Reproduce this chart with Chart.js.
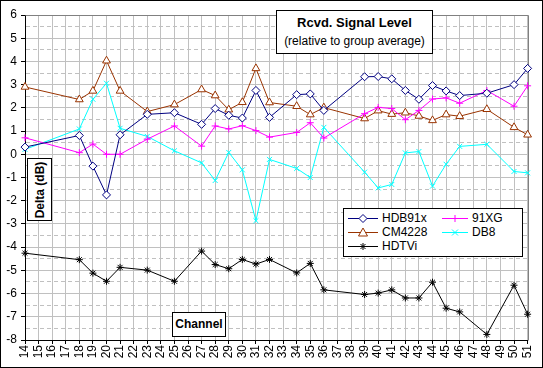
<!DOCTYPE html>
<html><head><meta charset="utf-8">
<script src="https://cdn.jsdelivr.net/npm/chart.js@4"></script>
<style>
html,body{margin:0;padding:0;background:#fff;overflow:hidden}
#wrap{position:relative;width:543px;height:368px;font-family:"Liberation Sans",Arial,sans-serif;color:#000}
#c{position:absolute;left:0;top:0}
.box{position:absolute;background:#fff;border:1px solid #000;box-sizing:border-box}
#title{left:276px;top:10px;width:157px;height:44px;text-align:center}
#title .t1{font-weight:bold;font-size:13px;margin-top:4px;line-height:16px}
#title .t2{font-size:12px;line-height:16px;margin-top:2px}
#ytitle{left:27px;top:158px;width:25px;height:63px}
#ytitle span{position:absolute;left:50%;top:50%;transform:translate(-50%,-50%) rotate(-90deg);white-space:nowrap;font-weight:bold;font-size:12px}
#xtitle{left:172px;top:312px;width:54px;height:25px;font-weight:bold;font-size:12px;text-align:center;line-height:23px}
#legend{left:343px;top:208px;width:180px;height:49px}
#legend svg{position:absolute;left:0;top:0}
#legend .lt{position:absolute;font-size:12px;line-height:14px;white-space:nowrap}
</style></head>
<body>
<div id="wrap">
<canvas id="c" width="543" height="368"></canvas>
<div class="box" id="title"><div class="t1">Rcvd. Signal Level</div><div class="t2">(relative to group average)</div></div>
<div class="box" id="ytitle"><span>Delta (dB)</span></div>
<div class="box" id="xtitle">Channel</div>
<div class="box" id="legend"></div>
</div>
<script>
const channels = [14,18,19,20,21,23,25,27,28,29,30,31,32,34,35,36,39,40,41,42,43,44,45,46,48,50,51];
const hdb91x = [0.31,0.81,-0.51,-1.75,0.84,1.72,1.79,1.29,1.97,1.68,1.56,2.75,1.59,2.57,2.60,1.89,3.34,3.35,3.25,2.75,2.37,2.96,2.73,2.53,2.63,3.00,3.70];
const xg91 = [0.71,0.07,0.44,0.00,0.00,0.65,1.22,0.35,1.22,1.09,1.23,1.02,0.74,0.94,1.36,0.70,1.75,2.02,1.97,1.49,1.89,2.38,2.43,2.20,2.75,2.07,2.95];
const cm4228 = [2.90,2.36,2.73,4.03,2.73,1.84,2.14,2.79,2.53,1.92,2.24,3.70,2.23,2.07,1.71,2.01,1.54,1.88,1.73,1.79,1.65,1.46,1.71,1.64,1.94,1.16,0.84];
const db8 = [0.21,1.09,2.37,3.06,1.12,0.77,0.15,-0.37,-1.13,0.08,-0.67,-2.86,-0.22,-0.61,-1.00,1.16,-0.77,-1.45,-1.30,0.06,0.12,-1.37,-0.43,0.34,0.43,-0.74,-0.80];
const hdtvi = [-4.26,-4.54,-5.12,-5.47,-4.87,-4.99,-5.47,-4.17,-4.75,-4.93,-4.53,-4.73,-4.53,-5.11,-4.70,-5.84,-6.04,-5.98,-5.84,-6.19,-6.19,-5.51,-6.63,-6.79,-7.76,-5.64,-6.89];
const xTickLabels = [14,15,16,17,18,19,20,21,22,23,24,25,26,27,28,29,30,31,32,33,34,35,36,37,38,39,40,41,42,43,44,45,46,47,48,49,50,51];
const yGridValues = [-8,-7.5,-7,-6.5,-6,-5.5,-5,-4.5,-4,-3.5,-3,-2.5,-2,-1.5,-1,-0.5,0,0.5,1,1.5,2,2.5,3,3.5,4,4.5,5,5.5,6];

const seriesNames = ['HDB91x','91XG','CM4228','DB8','HDTVi'];
const seriesColors = ['#000080','#ff00ff','#993300','#00ffff','#000000'];
const seriesStyles = ['rectRot','cross','triangle','crossRot','star'];
const seriesValues = [hdb91x, xg91, cm4228, db8, hdtvi];

const FONT = '"Liberation Sans", Arial, sans-serif';
const GRID = '#c0c0c0';

function pts(ys){ return channels.map((c,i)=>({x:c,y:ys[i]})); }

const datasets = seriesNames.map((n,i)=>({
  label:n,
  data:pts(seriesValues[i]),
  borderColor:seriesColors[i],
  backgroundColor:'#ffffff',
  borderWidth:1,
  pointStyle:seriesStyles[i],
  pointRadius: seriesStyles[i]==='triangle'?4.5:(seriesStyles[i]==='rectRot'?4:3.5),
  pointBorderColor:seriesColors[i],
  pointBackgroundColor:'#ffffff',
  pointBorderWidth:1,
  tension:0,
  clip:false,
  order: i
}));

const framePlugin = {
  id:'frame',
  beforeDatasetsDraw(chart){
    const {ctx, chartArea:a} = chart;
    ctx.save();
    ctx.strokeStyle = '#808080';
    ctx.lineWidth = 1;
    ctx.beginPath();
    ctx.moveTo(Math.round(a.left)+0.5, Math.round(a.top)+0.5);
    ctx.lineTo(Math.round(a.right)+0.5, Math.round(a.top)+0.5);
    ctx.lineTo(Math.round(a.right)+0.5, Math.round(a.bottom)+0.5);
    ctx.stroke();
    ctx.restore();
  },
  afterDraw(chart){
    const ctx = chart.ctx;
    ctx.save();
    ctx.strokeStyle = '#000';
    ctx.lineWidth = 1;
    ctx.strokeRect(0.5,0.5,542,367);
    ctx.restore();
  }
};

new Chart(document.getElementById('c'), {
  type:'line',
  data:{datasets},
  options:{
    responsive:false, animation:false, devicePixelRatio:1,
    layout:{padding:{left:0,top:15,right:15,bottom:0}},
    plugins:{legend:{display:false}, title:{display:false}, tooltip:{enabled:false}},
    scales:{
      x:{
        type:'linear', min:14, max:51,
        afterBuildTicks: s => { s.ticks = xTickLabels.map(v=>({value:v})); },
        afterFit: s => { s.height = 28; },
        ticks:{autoSkip:false, maxRotation:90, minRotation:90, padding:1, color:'#000', font:{family:FONT, size:12},
               callback: v => String(v)},
        grid:{color:GRID, lineWidth:1, tickLength:4, tickColor:'#000'},
        border:{color:'#000', width:1}
      },
      y:{
        min:-8, max:6,
        afterBuildTicks: s => { s.ticks = yGridValues.map(v=>({value:v})); },
        afterFit: s => { s.width = 25; },
        ticks:{autoSkip:false, padding:4, color:'#000', font:{family:FONT, size:12},
               callback: v => Number.isInteger(v) ? String(v) : ''},
        grid:{color:GRID, lineWidth:1, tickLength:4,
              tickColor: c => (c.tick && Number.isInteger(c.tick.value)) ? '#000' : 'rgba(0,0,0,0)'},
        border:{color:'#000', width:1,
                dash: c => (c.tick && !Number.isInteger(c.tick.value)) ? [4,3] : []}
      }
    }
  },
  plugins:[framePlugin]
});

// legend (HTML + SVG samples)
(function(){
  const lg = document.getElementById('legend');
  const pos = [[4,9],[98,9],[4,23],[98,23],[4,37]];
  const sampleW = [30,26,30,26,30];
  let svg = '<svg width="180" height="49" xmlns="http://www.w3.org/2000/svg">';
  let html = '';
  seriesNames.forEach((n,i)=>{
    const [x,y] = pos[i];
    const w = sampleW[i];
    const c = seriesColors[i];
    const cx = x + w/2, cy = y + 0.5;
    svg += `<line x1="${x}" y1="${cy}" x2="${x+w}" y2="${cy}" stroke="${c}" stroke-width="1"/>`;
    const s = seriesStyles[i];
    if (s==='rectRot') svg += `<polygon points="${cx},${cy-4} ${cx+4},${cy} ${cx},${cy+4} ${cx-4},${cy}" fill="#fff" stroke="${c}"/>`;
    if (s==='triangle') svg += `<polygon points="${cx},${cy-4.5} ${cx+4.5},${cy+3.5} ${cx-4.5},${cy+3.5}" fill="#fff" stroke="${c}"/>`;
    if (s==='cross') svg += `<path d="M${cx-3.5} ${cy}H${cx+3.5}M${cx} ${cy-3.5}V${cy+3.5}" stroke="${c}"/>`;
    if (s==='crossRot') svg += `<path d="M${cx-3} ${cy-3}L${cx+3} ${cy+3}M${cx-3} ${cy+3}L${cx+3} ${cy-3}" stroke="${c}"/>`;
    if (s==='star') svg += `<path d="M${cx-3.5} ${cy}H${cx+3.5}M${cx} ${cy-3.5}V${cy+3.5}M${cx-2.5} ${cy-2.5}L${cx+2.5} ${cy+2.5}M${cx-2.5} ${cy+2.5}L${cx+2.5} ${cy-2.5}" stroke="${c}"/>`;
    html += `<div class="lt" style="left:${x+w+4}px;top:${y-7}px">${n}</div>`;
  });
  svg += '</svg>';
  lg.innerHTML = svg + html;
})();
</script>
</body></html>
